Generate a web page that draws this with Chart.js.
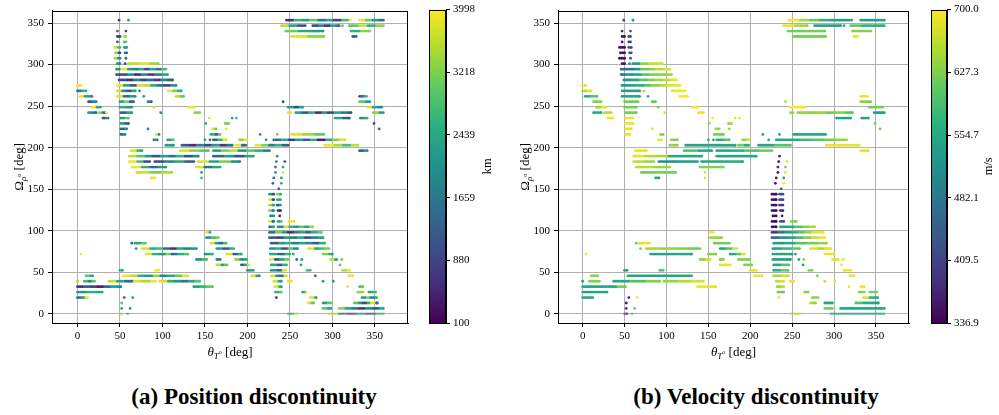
<!DOCTYPE html>
<html>
<head>
<meta charset="utf-8">
<script src="https://cdn.jsdelivr.net/npm/chart.js@4.4.1/dist/chart.umd.min.js"></script>
<style>
  body { margin: 0; background: #fff; width: 999px; height: 415px; position: relative; overflow: hidden; font-family: 'Liberation Serif', serif; }
  canvas { position: absolute; top: 0; }
  .caption { position: absolute; top: 384px; font-weight: bold; font-size: 23px; line-height: 26px; transform: translateX(-50%); white-space: nowrap; }
</style>
</head>
<body>
<canvas id="posChart" width="420" height="365" style="left:0px"></canvas>
<canvas id="posBar" width="80" height="365" style="left:420px"></canvas>
<canvas id="velChart" width="420" height="365" style="left:506px"></canvas>
<canvas id="velBar" width="77" height="365" style="left:922px"></canvas>
<div class="caption" style="left:254px">(a) Position discontinuity</div>
<div class="caption" style="left:756px">(b) Velocity discontinuity</div>
<script>
// grid of the sampled transfers
const ROW_STEP = 360 / 55;   // Ω rows
const X_STEP = 2;            // θ spacing inside a run

const AXIS_TICKS = [0, 50, 100, 150, 200, 250, 300, 350];
const KM_RANGE = [100, 3998];
const KM_TICKS = [100, 879.6, 1659.2, 2438.8, 3218.4, 3998];
const KM_LABELS = ['100', '880', '1659', '2439', '3218', '3998'];
const MS_RANGE = [336.9, 700.0];
const MS_TICKS = [336.9, 409.5, 482.1, 554.7, 627.3, 700.0];
const MS_LABELS = ['336.9', '409.5', '482.1', '554.7', '627.3', '700.0'];

// [row, θ start, θ end, position jump km (piecewise along the run), velocity jump m/s]
const runs = [
  [54, 49, 49, [900], [420]],
  [54, 60, 60, [2300], [540]],
  [54, 246, 318, [600, 2600, 2200, 3000, 1500, 2400, 900, 2800], [695, 650, 610, 570, 545, 540]],
  [54, 321, 321, [3900], [540]],
  [54, 332, 360, [3900, 3000, 2200, 1400], [540]],
  [53, 240, 266, [3600, 2400, 1200], [690, 650]],
  [53, 268, 268, [1200], [630]],
  [53, 277, 308, [1000, 2000, 700, 2400, 1500], [545]],
  [53, 312, 312, [3000], [545]],
  [53, 320, 360, [3000, 3700, 2600, 3300], [610, 570, 560]],
  [52, 47, 47, [1500], [370]],
  [52, 57, 57, [900], [420]],
  [52, 245, 289, [3100, 2500, 2200], [620]],
  [52, 322, 344, [2600, 3300], [630]],
  [51, 47, 50, [800], [370]],
  [51, 55, 57, [3500], [420]],
  [51, 252, 290, [3800, 3300], [620]],
  [51, 324, 328, [1300], [690]],
  [50, 47, 47, [1200], [360]],
  [50, 55, 57, [3000], [410]],
  [49, 44, 50, [3800, 2800], [350]],
  [49, 55, 58, [2300], [430]],
  [48, 45, 50, [3200, 1000], [350]],
  [48, 56, 58, [1300], [420]],
  [47, 44, 50, [3500, 2000], [350]],
  [47, 57, 57, [1400], [430]],
  [46, 47, 50, [2000], [360]],
  [46, 56, 56, [900], [520]],
  [46, 60, 95, [3600, 3800, 3400], [540, 640, 670, 680]],
  [45, 46, 50, [2200], [460]],
  [45, 52, 104, [3900, 2200, 1800, 2500, 900, 2400, 1600, 2800], [470, 520, 610, 630, 660, 680]],
  [44, 46, 50, [1000], [460]],
  [44, 52, 106, [900, 2000, 500, 1800, 700, 1600, 2300], [520, 540, 600, 620, 630, 640]],
  [43, 49, 112, [1000, 600, 1800, 900, 1500, 700, 1900, 1200], [530, 550, 600, 630, 650, 670, 690]],
  [42, 0, 4, [3900], [690]],
  [42, 47, 116, [3900, 2400, 1200, 3800, 3600, 2500, 1500, 900, 2200], [530, 550, 560, 600, 630, 660, 680, 690]],
  [41, 0, 10, [1500, 2600], [650, 690]],
  [41, 47, 68, [3800, 2000, 1200, 2400], [545]],
  [41, 73, 73, [2200], [660]],
  [41, 107, 122, [3900, 3200, 2500], [690]],
  [40, 3, 17, [3900, 2400, 2000], [560, 600]],
  [40, 47, 68, [3800, 1500, 2200], [545]],
  [40, 78, 78, [2300], [560]],
  [40, 116, 125, [3600, 3000], [695]],
  [40, 332, 340, [1200, 2600], [690]],
  [39, 13, 22, [1200, 2000], [630]],
  [39, 50, 66, [2400, 3200, 1300], [620]],
  [39, 83, 87, [2000, 1200], [610]],
  [39, 242, 242, [1000], [660]],
  [39, 332, 344, [3000, 2200], [630]],
  [38, 17, 27, [3900, 2400], [640, 680]],
  [38, 50, 64, [2600, 2200], [620]],
  [38, 90, 90, [3800], [620]],
  [38, 131, 137, [3900], [695]],
  [38, 248, 265, [2200, 1000, 2400], [695]],
  [38, 342, 358, [3800, 2400, 2000], [620]],
  [37, 13, 22, [2200, 1500], [560]],
  [37, 26, 34, [3300, 1600, 3800], [660]],
  [37, 51, 64, [1200, 2300], [620]],
  [37, 98, 98, [2000], [690]],
  [37, 138, 144, [3300], [690]],
  [37, 248, 251, [3900], [640]],
  [37, 257, 322, [2400, 1200, 2600, 700, 2200, 1000, 2400, 1800, 1200], [640, 630, 640, 620, 630, 600]],
  [37, 348, 360, [3300, 2300], [540]],
  [36, 30, 36, [1000, 2000], [690]],
  [36, 51, 60, [2200, 3000], [690]],
  [36, 155, 155, [3900], [695]],
  [36, 182, 182, [2300], [690]],
  [36, 187, 187, [2800], [690]],
  [36, 303, 320, [2400, 1200], [545]],
  [36, 333, 341, [2000, 2600], [540]],
  [35, 51, 60, [2400, 1400], [690]],
  [35, 151, 151, [2600], [640]],
  [35, 174, 178, [3200], [640, 670]],
  [35, 349, 349, [1200], [620]],
  [34, 51, 58, [1400, 2200], [690]],
  [34, 83, 83, [1900], [690]],
  [34, 159, 163, [3800, 3000], [640]],
  [34, 175, 175, [3900], [640]],
  [34, 355, 355, [1500], [630]],
  [33, 51, 56, [1400, 2000], [690]],
  [33, 93, 96, [3800, 2000], [630]],
  [33, 157, 168, [2500, 1200, 3200], [620]],
  [33, 215, 215, [2200], [550]],
  [33, 235, 235, [3300], [550]],
  [33, 252, 290, [3800, 3400, 3000], [545]],
  [32, 90, 94, [1800], [690]],
  [32, 106, 113, [2400, 3000], [630]],
  [32, 150, 150, [2200], [550]],
  [32, 156, 156, [1300], [550]],
  [32, 160, 175, [1200, 2600, 3800], [560, 600]],
  [32, 191, 199, [3300, 3900], [640, 680]],
  [32, 222, 222, [2200], [550]],
  [32, 231, 315, [1500, 2500, 800, 2200, 1200, 2600, 400, 2400, 3200, 3800], [550, 560, 580, 600, 620, 640]],
  [31, 104, 113, [2300], [640]],
  [31, 123, 182, [1200, 600, 1800, 900, 2200, 700, 1500], [550]],
  [31, 186, 198, [3900, 1400], [620, 560]],
  [31, 210, 248, [3900, 3200, 1800, 2600, 1200], [550, 600]],
  [31, 291, 330, [3900, 3500, 2800, 3600], [690]],
  [30, 63, 76, [3800, 2600], [690]],
  [30, 121, 154, [3800, 3300, 3000], [600, 560]],
  [30, 160, 226, [2400, 3200, 3600, 2200, 3000, 2600, 1800], [560, 570, 600, 620]],
  [30, 332, 341, [1200, 2200], [690]],
  [29, 61, 142, [3600, 3000, 2200, 1200, 2400, 1500, 2600, 1000, 2000], [690, 660, 650, 560, 550, 560]],
  [29, 160, 207, [1400, 2200, 1000, 2400], [550]],
  [29, 235, 235, [2200], [380]],
  [28, 61, 85, [3900, 2800, 1000], [660, 640]],
  [28, 91, 137, [1000, 1800, 2400, 1200], [520, 540]],
  [28, 142, 191, [3800, 2400, 3200, 2000], [550, 560]],
  [28, 234, 234, [2000], [360]],
  [28, 244, 244, [1200], [690]],
  [27, 64, 104, [3900, 2600, 1400, 2200], [660, 640]],
  [27, 140, 168, [3800, 1500, 2400], [630]],
  [27, 233, 233, [1500], [370]],
  [27, 242, 242, [2400], [620]],
  [26, 70, 111, [3700, 3200, 3500], [620]],
  [26, 146, 146, [2300], [690]],
  [26, 233, 233, [2200], [360]],
  [26, 242, 242, [3800], [690]],
  [25, 87, 91, [3900], [550]],
  [25, 146, 146, [2800], [690]],
  [25, 231, 231, [1500], [360]],
  [25, 240, 240, [2200], [540]],
  [24, 230, 230, [1300], [360]],
  [24, 240, 240, [2400], [690]],
  [23, 237, 237, [1200], [440]],
  [22, 226, 231, [2200, 1200], [350]],
  [22, 235, 239, [3300, 2400], [420]],
  [21, 226, 231, [3900, 1000], [350]],
  [21, 235, 239, [2600], [420]],
  [20, 226, 231, [3500, 2400], [350]],
  [20, 235, 239, [1200, 2200], [400]],
  [19, 226, 231, [3200, 2000], [350]],
  [19, 236, 239, [600], [380]],
  [18, 227, 231, [2000], [350]],
  [18, 238, 238, [500], [380]],
  [17, 226, 231, [3800, 1400], [350]],
  [17, 236, 240, [2400, 3000], [430]],
  [17, 249, 255, [3900], [630]],
  [16, 226, 231, [1600, 2400], [350]],
  [16, 236, 277, [2000, 3800, 2600, 2200, 3000, 2400, 3400], [540, 560, 600, 630, 650]],
  [15, 152, 156, [3900, 2400], [695]],
  [15, 226, 287, [1400, 3200, 2200, 600, 1800, 2400, 1200, 2600, 3000], [400, 470, 540, 560, 600, 640, 680, 695]],
  [14, 152, 166, [2000, 2800, 3200], [640]],
  [14, 226, 289, [1200, 800, 2200, 1600, 2400, 1000, 1800, 2200], [460, 520, 550, 590, 630, 670, 695]],
  [13, 64, 64, [1300], [620]],
  [13, 68, 80, [2400, 3000], [690]],
  [13, 157, 175, [3800, 2400, 1400, 2800], [620]],
  [13, 228, 291, [1300, 2200, 2600, 1800, 2400, 2000, 1300, 2600], [540, 560, 600, 620, 640]],
  [12, 69, 69, [2200], [620]],
  [12, 76, 140, [3800, 2500, 2800, 1500, 700, 2400, 1800, 2200], [650, 640, 630, 620]],
  [12, 164, 184, [2400, 1200, 2600], [550, 600, 680]],
  [12, 227, 259, [2200, 2600, 1200, 3000, 2000], [550, 580, 610]],
  [12, 272, 296, [3800, 2400, 2800, 3200], [680, 650, 690]],
  [11, 4, 4, [3900], [695]],
  [11, 81, 130, [3800, 2600, 2200, 3200, 1600, 2600, 3000], [545, 550]],
  [11, 150, 159, [2200, 2600], [630]],
  [11, 176, 193, [3800, 1200, 2400], [550, 600, 680]],
  [11, 227, 250, [2400, 1300, 2600], [550]],
  [11, 254, 254, [2400], [550]],
  [11, 289, 300, [3200, 2400], [690]],
  [10, 140, 152, [2200, 2800], [640, 680]],
  [10, 164, 168, [1800], [630]],
  [10, 186, 199, [3300, 2200, 2600], [630]],
  [10, 227, 248, [3900, 1200, 2400, 3200], [550]],
  [10, 258, 258, [1500], [550]],
  [10, 264, 264, [2300], [630]],
  [10, 298, 305, [3600, 2400], [690]],
  [10, 311, 311, [3200], [690]],
  [9, 164, 176, [3600, 2400, 3000], [690]],
  [9, 193, 202, [1200, 2400, 3800], [630]],
  [9, 228, 246, [2400, 1200, 2600], [550, 600]],
  [9, 263, 263, [2300], [550]],
  [9, 309, 309, [3000], [690]],
  [8, 50, 53, [2600], [550]],
  [8, 92, 96, [3900], [600]],
  [8, 200, 207, [2200, 2600], [690]],
  [8, 228, 245, [2200, 1200, 3800], [560, 610]],
  [8, 270, 274, [2800], [630]],
  [8, 312, 320, [3500, 3800], [690]],
  [7, 10, 18, [3000, 2400], [630]],
  [7, 54, 130, [3900, 3600, 2600, 2200, 3300, 1800, 2400, 3000, 3800], [545, 550]],
  [7, 205, 214, [3800, 2200], [690]],
  [7, 228, 246, [3800, 2200, 1400, 3800], [650, 670]],
  [7, 280, 280, [1300], [620]],
  [7, 319, 324, [3900], [690]],
  [6, 0, 0, [3500], [540]],
  [6, 8, 20, [2800, 1800, 3000], [630]],
  [6, 37, 92, [3700, 2400, 1500, 3800, 3500, 3900], [560, 600, 630]],
  [6, 97, 144, [3800, 2600, 2200, 1600, 2400, 3000], [640, 660, 680]],
  [6, 231, 240, [3800, 2400], [660, 680]],
  [6, 248, 252, [3900], [690]],
  [6, 289, 289, [2200], [670]],
  [6, 301, 301, [2200], [695]],
  [5, 0, 51, [600, 1200, 800, 400, 1400, 2200, 1800], [545, 545, 550, 620]],
  [5, 137, 159, [2200, 2600, 3000], [690]],
  [5, 232, 240, [3800, 2400], [640, 660]],
  [5, 318, 318, [3800], [690]],
  [5, 332, 336, [3000], [690]],
  [4, 0, 29, [2200, 2600, 2400], [550]],
  [4, 233, 240, [2600, 3000], [620]],
  [4, 265, 269, [2400, 3600], [630]],
  [4, 330, 336, [3300], [630]],
  [4, 343, 351, [2400, 2800], [620]],
  [3, 0, 12, [1400, 2200, 3900], [550]],
  [3, 55, 55, [1300], [380]],
  [3, 65, 65, [2200], [690]],
  [3, 234, 234, [700], [690]],
  [3, 274, 281, [3800, 2400], [640]],
  [3, 335, 352, [2200, 3200, 1800, 2600], [680, 560, 550]],
  [2, 52, 52, [3000], [370]],
  [2, 272, 278, [3800, 3000], [660, 640]],
  [2, 289, 298, [2400, 3000], [550]],
  [2, 326, 353, [3000, 2200, 1000, 2600, 3800, 1500], [600, 560, 550]],
  [1, 52, 52, [2400], [400]],
  [1, 62, 62, [2200], [620]],
  [1, 289, 298, [3000, 2400], [620]],
  [1, 308, 360, [3300, 2400, 1600, 800, 2000, 1200, 2400], [550]],
  [0, 50, 53, [3200, 3800], [380]],
  [0, 59, 59, [2000], [540]],
  [0, 248, 259, [2400, 3600], [660]],
  [0, 296, 360, [3600, 1500, 800, 2200, 1000, 2600], [540]]
];

const VIRIDIS = ['#440154', '#472d7b', '#3b528b', '#2c728e', '#21918c', '#28ae80', '#5ec962', '#addc30', '#fde725'];
const FONT = 'Liberation Serif, serif';

function hexRgb(h) {
  return [parseInt(h.slice(1, 3), 16), parseInt(h.slice(3, 5), 16), parseInt(h.slice(5, 7), 16)];
}

function viridis(t, alpha) {
  t = Math.max(0, Math.min(1, t));
  const p = t * (VIRIDIS.length - 1);
  const i = Math.min(VIRIDIS.length - 2, Math.floor(p));
  const f = p - i;
  const a = hexRgb(VIRIDIS[i]), b = hexRgb(VIRIDIS[i + 1]);
  const c = a.map((v, k) => Math.round(v + (b[k] - v) * f));
  return `rgba(${c[0]},${c[1]},${c[2]},${alpha})`;
}

function buildPoints(col) {
  const pts = [];
  runs.forEach(r => {
    const row = r[0], x0 = r[1], x1 = r[2], vals = r[col];
    const xs = [];
    for (let x = x0; x <= x1 + 0.01; x += X_STEP) xs.push(x);
    if (xs[xs.length - 1] < x1 - 0.5) xs.push(x1);
    xs.forEach((x, k) => {
      const seg = Math.min(vals.length - 1, Math.floor(k * vals.length / xs.length));
      pts.push({ x: x, y: row * ROW_STEP, v: vals[seg] });
    });
  });
  return pts;
}

// frame round the plot area (matplotlib spines)
const framePlugin = {
  id: 'frame',
  afterDraw(chart) {
    const a = chart.chartArea, ctx = chart.ctx;
    ctx.save();
    ctx.strokeStyle = '#000';
    ctx.lineWidth = 1;
    ctx.strokeRect(Math.round(a.left) + 0.5, Math.round(a.top) + 0.5, Math.round(a.right - a.left) - 1, Math.round(a.bottom - a.top));
    ctx.restore();
  }
};

// text made of pieces with sub/superscripts, centred on (0,0)
function drawPieces(ctx, pieces) {
  let w = 0;
  pieces.forEach(p => {
    ctx.font = `${p.it ? 'italic ' : ''}${p.s}px ${FONT}`;
    p.w = ctx.measureText(p.t).width;
    w += p.w;
  });
  let x = -w / 2;
  pieces.forEach(p => {
    ctx.font = `${p.it ? 'italic ' : ''}${p.s}px ${FONT}`;
    ctx.fillText(p.t, x, p.dy);
    x += p.w;
  });
}

const axisTitlePlugin = {
  id: 'axisTitles',
  afterDraw(chart) {
    const a = chart.chartArea, ctx = chart.ctx;
    ctx.save();
    ctx.fillStyle = '#000';
    ctx.textBaseline = 'alphabetic';
    ctx.textAlign = 'left';
    ctx.translate((a.left + a.right) / 2, 356);
    drawPieces(ctx, [
      { t: 'θ', s: 13, it: true, dy: 0 },
      { t: 'T', s: 9, it: true, dy: 3 },
      { t: 'o', s: 6, it: false, dy: -2 },
      { t: ' [deg]', s: 13, it: false, dy: 0 }
    ]);
    ctx.restore();
    ctx.save();
    ctx.fillStyle = '#000';
    ctx.textBaseline = 'alphabetic';
    ctx.textAlign = 'left';
    ctx.translate(23, (a.top + a.bottom) / 2);
    ctx.rotate(-Math.PI / 2);
    drawPieces(ctx, [
      { t: 'Ω', s: 13, it: false, dy: 0 },
      { t: 'ρ', s: 9, it: true, dy: 3 },
      { t: 'o', s: 6, it: false, dy: -2 },
      { t: ' [deg]', s: 13, it: false, dy: 0 }
    ]);
    ctx.restore();
  }
};

function scatterChart(id, col, range, xMin, xMax, padRight) {
  const pts = buildPoints(col);
  new Chart(document.getElementById(id), {
    type: 'scatter',
    data: {
      datasets: [{
        data: pts,
        pointRadius: 1.4,
        pointHoverRadius: 1.4,
        pointBorderWidth: 0,
        pointBackgroundColor: ctx => {
          const p = ctx.raw;
          if (!p) return '#000';
          return viridis((p.v - range[0]) / (range[1] - range[0]), p.y === 0 ? 0.5 : 1);
        }
      }]
    },
    options: {
      responsive: false,
      animation: false,
      devicePixelRatio: 1,
      layout: { padding: { top: 4, right: padRight, left: 0, bottom: 0 } },
      plugins: { legend: { display: false }, tooltip: { enabled: false } },
      scales: {
        x: {
          type: 'linear', min: xMin, max: xMax,
          afterBuildTicks: s => { s.ticks = AXIS_TICKS.map(v => ({ value: v })); },
          afterFit: s => { s.height = 42; },
          grid: { color: '#b0b0b0', lineWidth: 1, tickColor: '#000', tickLength: 4 },
          border: { color: '#000', width: 1 },
          ticks: { color: '#000', font: { family: FONT, size: 11 }, padding: 3, maxRotation: 0 }
        },
        y: {
          type: 'linear', min: -11, max: 365,
          afterBuildTicks: s => { s.ticks = AXIS_TICKS.map(v => ({ value: v })); },
          afterFit: s => { s.width = 52; },
          grid: { color: '#b0b0b0', lineWidth: 1, tickColor: '#000', tickLength: 4 },
          border: { color: '#000', width: 1 },
          ticks: { color: '#000', font: { family: FONT, size: 11 }, padding: 4 }
        }
      }
    },
    plugins: [framePlugin, axisTitlePlugin]
  });
}

function colourBar(id, range, ticks, labels, unit, padLeft, axisWidth) {
  const unitPlugin = {
    id: 'unit',
    afterDraw(chart) {
      const a = chart.chartArea, ctx = chart.ctx;
      ctx.save();
      ctx.fillStyle = '#000';
      ctx.font = `12.5px ${FONT}`;
      ctx.textAlign = 'center';
      ctx.textBaseline = 'middle';
      ctx.translate(a.right + 42, (a.top + a.bottom) / 2);
      ctx.rotate(-Math.PI / 2);
      ctx.fillText(unit, 0, 0);
      ctx.restore();
    }
  };
  new Chart(document.getElementById(id), {
    type: 'bar',
    data: {
      labels: [''],
      datasets: [{
        data: [range],
        barPercentage: 1,
        categoryPercentage: 1,
        borderWidth: 0,
        backgroundColor: ctx => {
          const a = ctx.chart.chartArea;
          if (!a) return 'rgba(0,0,0,0)';
          const g = ctx.chart.ctx.createLinearGradient(0, a.bottom, 0, a.top);
          VIRIDIS.forEach((c, i) => g.addColorStop(i / (VIRIDIS.length - 1), c));
          return g;
        }
      }]
    },
    options: {
      responsive: false,
      animation: false,
      devicePixelRatio: 1,
      layout: { padding: { top: 3, bottom: 42, left: padLeft, right: 0 } },
      plugins: { legend: { display: false }, tooltip: { enabled: false } },
      scales: {
        x: { display: false },
        y: {
          position: 'right', min: range[0], max: range[1],
          afterBuildTicks: s => { s.ticks = ticks.map(v => ({ value: v })); },
          afterFit: s => { s.width = axisWidth; },
          grid: { drawOnChartArea: false, tickColor: '#000', tickLength: 4 },
          border: { color: '#000', width: 1 },
          ticks: { color: '#000', font: { family: FONT, size: 11 }, padding: 3, callback: (v, i) => labels[i] }
        }
      }
    },
    plugins: [framePlugin, unitPlugin]
  });
}

scatterChart('posChart', 3, KM_RANGE, -30, 389, 12);
colourBar('posBar', KM_RANGE, KM_TICKS, KM_LABELS, 'km', 9, 54);
scatterChart('velChart', 4, MS_RANGE, -29.5, 389.5, 17);
colourBar('velBar', MS_RANGE, MS_TICKS, MS_LABELS, 'm/s', 9, 52);
</script>
</body>
</html>
